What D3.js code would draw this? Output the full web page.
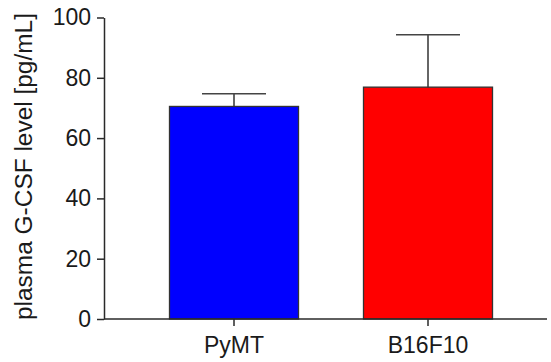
<!DOCTYPE html>
<html><head><meta charset="utf-8">
<script src="https://cdn.jsdelivr.net/npm/d3@7"></script>
<style>body{margin:0;background:#fff}text{font-family:"Liberation Sans",Arial,sans-serif;fill:#1a1a1a}</style>
</head><body><svg id="c" width="551" height="362"></svg>
<script>
const categories = ["PyMT", "B16F10"];
const means = [70.5, 76.9];
const errors = [4.2, 17.4];
const colors = ["#0000ff", "#ff0000"];
const yTicks = [0, 20, 40, 60, 80, 100];

const svg = d3.select("#c");
const y = d3.scaleLinear().domain([0, 100]).range([319, 17.5]);
const x = d3.scaleBand().domain(categories).range([137, 525]).paddingInner(0.335).paddingOuter(0.1675);
const axisColor = "#2a2a2a";
const font = '"Liberation Sans",Arial,sans-serif';

// bars
svg.selectAll("rect.bar").data(categories).enter().append("rect")
  .attr("x", d => x(d)).attr("width", x.bandwidth())
  .attr("y", (d, i) => y(means[i])).attr("height", (d, i) => y(0) - y(means[i]))
  .attr("fill", (d, i) => colors[i]).attr("stroke", "#333").attr("stroke-width", 1.3);

// error bars
const capHalf = 32;
categories.forEach((c, i) => {
  const cx = x(c) + x.bandwidth() / 2;
  svg.append("line").attr("x1", cx).attr("x2", cx).attr("y1", y(means[i])).attr("y2", y(means[i] + errors[i]))
    .attr("stroke", "#333").attr("stroke-width", 1.5);
  svg.append("line").attr("x1", cx - capHalf).attr("x2", cx + capHalf).attr("y1", y(means[i] + errors[i])).attr("y2", y(means[i] + errors[i]))
    .attr("stroke", "#444").attr("stroke-width", 1.5);
});

// y axis
const yAxis = svg.append("g").attr("transform", "translate(104,0)")
  .call(d3.axisLeft(y).tickValues(yTicks).tickSize(7).tickPadding(6).tickSizeOuter(0));
yAxis.select(".domain").attr("stroke", axisColor).attr("stroke-width", 1.5);
yAxis.selectAll(".tick line").attr("stroke", axisColor).attr("stroke-width", 1.5);
yAxis.selectAll(".tick text").style("font-size", "23px").attr("fill", "#1a1a1a").style("font-family", font);

// x axis
svg.append("line").attr("x1", 104).attr("x2", 547).attr("y1", y(0)).attr("y2", y(0)).attr("stroke", axisColor).attr("stroke-width", 1.5);
const xAxis = svg.append("g").attr("transform", `translate(0,${y(0)})`)
  .call(d3.axisBottom(x).tickSize(7).tickPadding(11).tickSizeOuter(0));
xAxis.select(".domain").remove();
xAxis.selectAll(".tick line").attr("stroke", axisColor).attr("stroke-width", 1.5);
xAxis.selectAll(".tick text").style("font-size", "23px").attr("fill", "#1a1a1a").style("font-family", font);

// y label
svg.append("text").attr("transform", "translate(31.5,166.5) rotate(-90)")
  .attr("text-anchor", "middle").style("font-size", "23px")
  .attr("textLength", 307).attr("lengthAdjust", "spacingAndGlyphs")
  .text("plasma G-CSF level [pg/mL]");
</script></body></html>
